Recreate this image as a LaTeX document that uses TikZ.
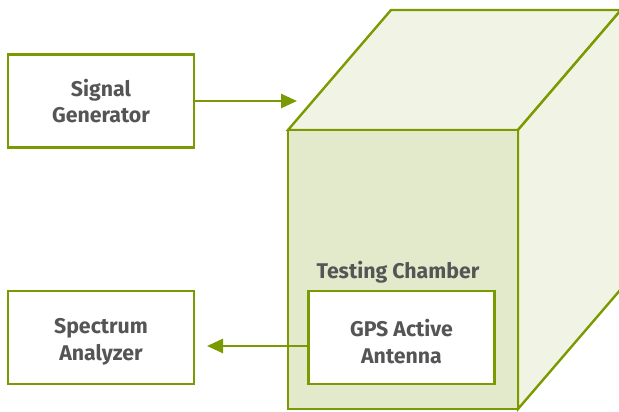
\documentclass[tikz,border=0pt]{standalone}
\usepackage{fontspec}
\setmainfont{Fira Sans}
\usetikzlibrary{arrows.meta}
\definecolor{gr}{HTML}{7A9A01}
\definecolor{txt}{HTML}{555555}
\definecolor{frontf}{HTML}{E3EACB}
\definecolor{sidef}{HTML}{F1F4E5}
\tikzset{
  lbl/.style={text=txt, font=\fontsize{21.3}{26.5}\selectfont\bfseries, align=center, inner sep=0pt},
  box/.style={draw=gr, line width=2.8pt, fill=white, minimum width=186pt, minimum height=93pt, inner sep=0pt},
  conn/.style={draw=gr, line width=2.6pt, -{Triangle[length=16pt,width=14pt]}},
  face/.style={draw=gr, line width=2.4pt, line join=miter}
}
\begin{document}
\begin{tikzpicture}[x=1pt,y=-1pt]
\useasboundingbox (0,0) rectangle (619,412);
\clip (0,0) rectangle (619,412);
% cube
\coordinate (ftl) at (288,130);
\coordinate (ftr) at (518,130);
\coordinate (fbr) at (518,409);
\coordinate (fbl) at (288,409);
\coordinate (btl) at (391,10);
\coordinate (btr) at (621,10);
\coordinate (bbr) at (621,289);
\draw[face, fill=sidef] (ftl) -- (btl) -- (btr) -- (ftr) -- cycle;
\draw[face, fill=sidef] (ftr) -- (btr) -- (bbr) -- (fbr) -- cycle;
\draw[face, fill=frontf] (ftl) rectangle (fbr);
\node[lbl, anchor=base] (lab) at (398,278) {Testing Chamber};
% boxes
\node[box] (sg) at (101,101) {};
\node[box] (sa) at (101,337.5) {};
\node[box] (gps) at (401.5,337.5) {};
\node[lbl] (sgT) at (101,101) {Signal\\Generator};
\node[lbl] (saT) at (101,342) {Spectrum\\Analyzer};
\node[lbl] (gpsT) at (401.5,341.5) {GPS Active\\Antenna};
\coordinate (inarrow) at (297,101);
\coordinate (outarrow) at (207,346);
\draw[conn] (sg.east |- inarrow) -- (inarrow);
\draw[conn] (gps.west |- outarrow) -- (outarrow);
\end{tikzpicture}
\end{document}
